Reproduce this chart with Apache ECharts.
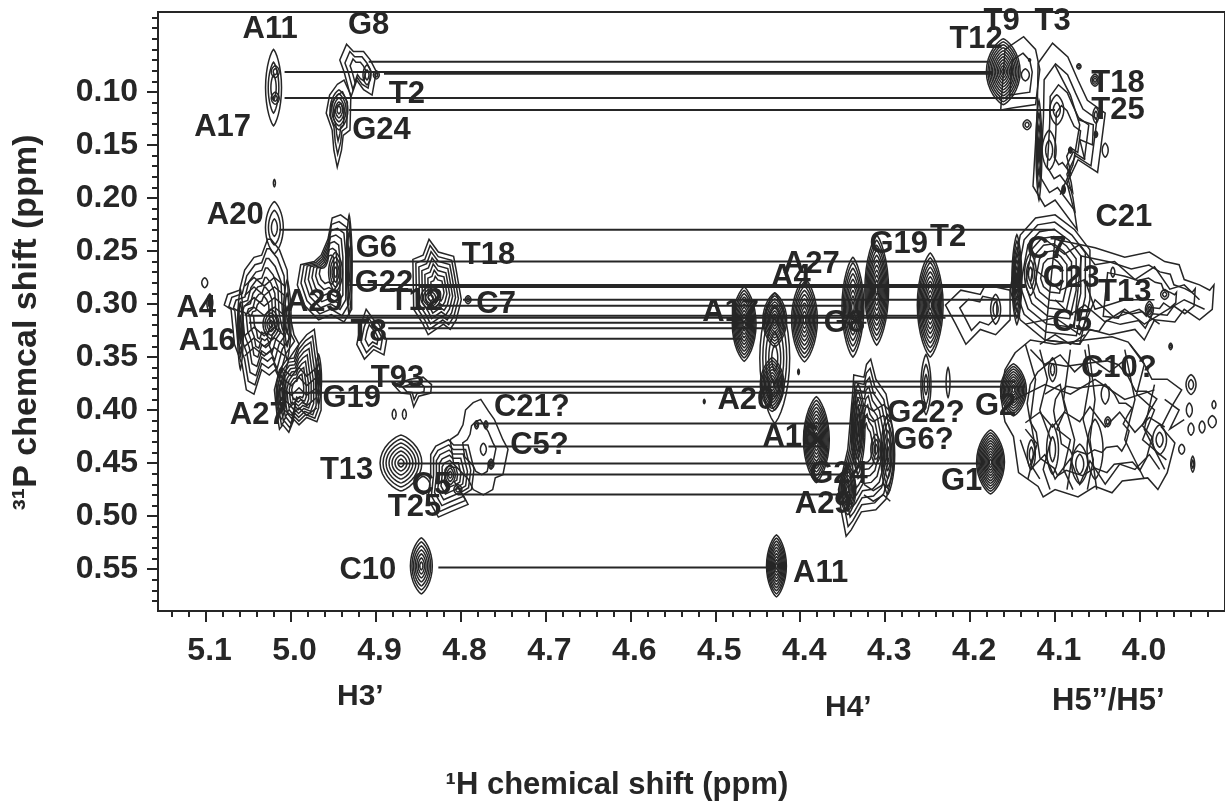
<!DOCTYPE html>
<html><head><meta charset="utf-8">
<style>html,body{margin:0;padding:0;background:#fff}#c{width:1225px;height:806px}</style>
<script src="https://cdn.jsdelivr.net/npm/echarts@6/dist/echarts.min.js"></script>
</head><body><div id="c"></div>
<script>
// Axis ticks (ppm)
const xTickValues = [5.1,5.0,4.9,4.8,4.7,4.6,4.5,4.4,4.3,4.2,4.1,4.0];
const yTickValues = [0.10,0.15,0.20,0.25,0.30,0.35,0.40,0.45,0.50,0.55];
const xMinorValues = [5.14,5.12,5.08,5.06,5.04,5.02,4.98,4.96,4.94,4.92,4.88,4.86,4.84,4.82,4.78,4.76,4.74,4.72,4.68,4.66,4.64,4.62,4.58,4.56,4.54,4.52,4.48,4.46,4.44,4.42,4.38,4.36,4.34,4.32,4.28,4.26,4.24,4.22,4.18,4.16,4.14,4.12,4.08,4.06,4.04,4.02,3.98,3.96,3.94,3.92];
const yMinorValues = [0.03,0.04,0.05,0.06,0.07,0.08,0.09,0.11,0.12,0.13,0.14,0.16,0.17,0.18,0.19,0.21,0.22,0.23,0.24,0.26,0.27,0.28,0.29,0.31,0.32,0.33,0.34,0.36,0.37,0.38,0.39,0.41,0.42,0.43,0.44,0.46,0.47,0.48,0.49,0.51,0.52,0.53,0.54,0.56,0.57,0.58];

// Connector lines: 31P shift, 1H from, 1H to
const connectorY    = [.0717,.0812,.0830,.1057,.117,.230,.260,.282,.284,.296,.3016,.311,.313,.3176,.323,.3327,.373,.378,.3836,.4127,.4344,.4504,.4608,.4796,.5484];
const connectorFrom = [4.908,5.007,4.890,5.007,4.931,5.013,4.929,4.931,4.849,4.797,4.826,5.051,5.002,5.049,4.885,4.890,4.964,4.873,5.007,4.779,4.767,4.873,4.826,4.803,4.826];
const connectorTo   = [4.178,4.174,4.174,4.120,4.100,4.100,4.143,4.135,4.135,4.141,4.346,4.141,4.229,4.322,4.440,4.469,4.147,4.135,4.311,4.334,4.369,4.188,4.346,4.346,4.428];

// Peak labels
const labelText = ['A11','G8','T12','T9','T3','T18','T25','T2','A17','G24','A20','G6','G22','T18','T12','C7','A4','A29','T8','A16','T93','G19','A27','C21?','C5?','T13','C5','T25','C10','A11','G1','G22?','G6?','G2','A20','A16','G24','A29','A27','A4','A17','G8','G19','T2','C21','C7','C23','T13','C5','C10?'];
const labelX = [5.024,4.908,4.193,4.163,4.103,4.026,4.026,4.863,5.080,4.893,5.065,4.899,4.890,4.767,4.852,4.758,5.111,4.972,4.908,5.098,4.874,4.928,5.038,4.716,4.707,4.934,4.834,4.854,4.909,4.376,4.210,4.252,4.255,4.170,4.464,4.411,4.355,4.373,4.387,4.411,4.482,4.348,4.284,4.226,4.019,4.110,4.081,4.018,4.080,4.025];
const labelY = [.041,.037,.051,.034,.034,.0925,.118,.102,.134,.136,.217,.248,.281,.254,.298,.300,.304,.299,.327,.335,.370,.389,.405,.398,.433,.457,.471,.492,.551,.554,.467,.403,.429,.397,.391,.426,.461,.489,.263,.275,.308,.318,.244,.237,.218,.249,.276,.289,.317,.361];

// Band labels
const bandText = ["H3\u2019","H4\u2019","H5\u2019\u2019/H5\u2019"];

// Contour peaks: 1H, 31P, half width, half height, levels
const peaks = [
[5.020,.096,.0094,.036,3],[5.018,.081,.0047,.0057,2],[5.018,.106,.0047,.0057,2],
[4.910,.084,.0047,.0094,2],[4.899,.084,.0035,.0038,2],[4.943,.117,.0105,.0188,5],
[5.019,.186,.0012,.0035,1],[5.101,.280,.0035,.0047,1],[5.095,.299,.0035,.0085,2],
[5.019,.228,.0105,.0245,3],[5.059,.324,.0035,.0377,3],[5.023,.319,.0094,.0141,4],[5.004,.315,.0047,.0377,3],
[4.931,.263,.0035,.047,3],[4.947,.270,.0082,.0188,4],[4.835,.294,.0117,.0113,4],[4.791,.296,.0035,.0038,2],
[5.011,.385,.0059,.0236,4],[4.967,.371,.0035,.0236,3],[4.878,.404,.0023,.0047,1],[4.866,.404,.0023,.0047,1],
[4.870,.450,.0246,.0264,7],[4.844,.471,.0082,.0085,1],[4.812,.461,.0059,.0094,3],[4.803,.475,.0047,.0047,2],
[4.781,.414,.0023,.0038,2],[4.770,.414,.0023,.0038,2],[4.773,.437,.0035,.0057,1],[4.764,.451,.0035,.0047,3],
[4.846,.547,.0129,.0264,7],[4.428,.547,.0117,.0292,10],
[4.466,.319,.014,.035,11],[4.430,.315,.014,.0254,9],[4.433,.376,.014,.0254,9],[4.430,.351,.0176,.0612,5],
[4.395,.315,.0152,.0396,10],[4.338,.303,.0129,.0471,9],[4.310,.287,.014,.0518,11],[4.247,.301,.0152,.049,11],
[4.252,.376,.0059,.0283,3],[4.226,.374,.0023,.0141,1],[4.402,.364,.001,.0025,2],[4.513,.392,.001,.002,2],
[4.332,.418,.0082,.0424,6],[4.297,.442,.0082,.0377,5],[4.344,.475,.0094,.0236,7],[4.311,.437,.0059,.0141,3],
[4.381,.428,.0152,.0405,12],[4.176,.449,.0164,.0301,12],[4.161,.081,.0199,.0311,11],[4.135,.084,.0047,.0057,1],
[4.130,.070,.0012,.0012,2],[4.072,.076,.0025,.0025,2],[4.053,.089,.005,.0057,3],[4.133,.131,.0047,.0047,2],
[4.052,.122,.0035,.0075,2],[4.041,.155,.0035,.0066,1],[4.052,.140,.002,.003,2],[4.082,.155,.002,.0028,3],[4.090,.192,.002,.004,3],
[4.098,.117,.0082,.0141,2],[4.107,.155,.0082,.0188,2],[4.119,.155,.0035,.047,4],
[4.145,.277,.0059,.0424,7],[4.129,.272,.007,.02,3],[4.149,.381,.0152,.0245,10],
[4.128,.442,.0047,.0141,2],[4.103,.437,.007,.0236,2],[4.071,.451,.0094,.0188,2],[4.053,.437,.0094,.0283,1],
[3.977,.428,.0082,.0141,2],[4.103,.362,.0047,.0113,2],[4.041,.385,.0047,.0094,1],[3.940,.376,.0059,.0094,2],
[3.942,.400,.0035,.0066,1],[3.940,.418,.0035,.0057,1],[3.927,.416,.0035,.0057,1],[3.915,.411,.0047,.0057,1],
[3.913,.395,.0023,.0038,1],[3.938,.451,.0023,.0075,2],[3.951,.437,.0035,.0047,1],[4.038,.411,.0035,.0047,2],
[3.964,.340,.002,.003,2],[3.989,.305,.0047,.0075,3],[3.971,.291,.0047,.0047,2],[4.032,.270,.0023,.0047,1],[4.170,.305,.0059,.0141,2]
];

// Irregular contour outlines: levels, then [1H, 31P] vertices
const outlineLevels = [3,3,7,7,7,3,8,2,6,2,8,4,2,7,3,3,2];
const outlines = [
[[4.934,.055],[4.926,.062],[4.914,.062],[4.906,.070],[4.899,.081],[4.904,.103],[4.914,.098],[4.922,.089],[4.929,.105],[4.937,.081],[4.942,.070]],
[[4.945,.093],[4.937,.089],[4.929,.103],[4.930,.136],[4.938,.141],[4.940,.155],[4.945,.171],[4.949,.155],[4.951,.136],[4.958,.120],[4.954,.103]],
[[5.023,.239],[5.013,.249],[5.004,.268],[5.002,.305],[4.996,.329],[4.990,.338],[5.002,.352],[5.010,.376],[5.018,.362],[5.025,.367],[5.034,.362],[5.043,.385],[5.052,.381],[5.057,.357],[5.066,.338],[5.070,.305],[5.078,.301],[5.074,.291],[5.060,.287],[5.054,.268],[5.043,.256],[5.034,.254],[5.027,.239]],
[[4.951,.219],[4.941,.216],[4.931,.222],[4.928,.249],[4.928,.305],[4.937,.317],[4.952,.310],[4.967,.315],[4.984,.301],[4.992,.282],[4.988,.263],[4.972,.260],[4.964,.254],[4.956,.239]],
[[4.837,.239],[4.826,.251],[4.808,.255],[4.805,.268],[4.799,.296],[4.805,.315],[4.812,.324],[4.820,.319],[4.838,.329],[4.844,.319],[4.855,.305],[4.856,.258],[4.844,.254]],
[[4.911,.305],[4.902,.315],[4.896,.319],[4.887,.334],[4.890,.348],[4.902,.343],[4.913,.352],[4.922,.338],[4.917,.319]],
[[4.990,.338],[4.981,.329],[4.972,.324],[4.969,.343],[4.964,.371],[4.964,.400],[4.969,.411],[4.981,.407],[4.990,.414],[4.996,.409],[5.002,.421],[5.009,.414],[5.013,.418],[5.016,.404],[5.019,.381],[5.013,.362],[5.004,.352],[4.996,.351]],
[[4.859,.371],[4.844,.369],[4.834,.376],[4.835,.384],[4.849,.387],[4.855,.397],[4.859,.385],[4.870,.384],[4.879,.376]],
[[4.829,.434],[4.814,.428],[4.808,.433],[4.791,.433],[4.784,.456],[4.787,.475],[4.797,.480],[4.791,.489],[4.812,.496],[4.826,.501],[4.838,.484],[4.835,.461],[4.835,.442]],
[[4.794,.400],[4.785,.393],[4.776,.390],[4.767,.401],[4.760,.409],[4.750,.428],[4.744,.437],[4.750,.461],[4.759,.464],[4.762,.475],[4.773,.480],[4.785,.475],[4.791,.465],[4.808,.451],[4.812,.428],[4.803,.423],[4.797,.414]],
[[4.317,.352],[4.311,.371],[4.299,.385],[4.291,.418],[4.290,.456],[4.299,.484],[4.311,.494],[4.328,.496],[4.340,.513],[4.346,.519],[4.352,.494],[4.355,.475],[4.344,.437],[4.338,.381],[4.337,.367],[4.325,.369],[4.322,.357]],
[[4.120,.073],[4.103,.054],[4.085,.067],[4.073,.089],[4.062,.108],[4.041,.120],[4.045,.145],[4.050,.176],[4.073,.164],[4.086,.186],[4.077,.214],[4.074,.230],[4.100,.202],[4.112,.208],[4.126,.189],[4.123,.148],[4.121,.117]],
[[4.137,.048],[4.123,.060],[4.118,.079],[4.123,.112],[4.149,.115],[4.164,.117],[4.159,.060]],
[[4.153,.287],[4.141,.235],[4.123,.219],[4.100,.216],[4.077,.230],[4.059,.249],[4.059,.296],[4.071,.338],[4.112,.334],[4.141,.315]],
[[4.100,.239],[4.053,.247],[4.018,.256],[3.989,.251],[3.971,.260],[3.954,.263],[3.948,.277],[3.930,.282],[3.918,.287],[3.913,.282],[3.915,.305],[3.930,.315],[3.948,.305],[3.959,.317],[3.983,.315],[3.995,.334],[4.006,.324],[4.036,.329],[4.059,.324],[4.071,.338],[4.112,.334]],
[[4.147,.346],[4.159,.362],[4.164,.387],[4.159,.411],[4.149,.425],[4.143,.459],[4.120,.472],[4.114,.482],[4.100,.475],[4.073,.482],[4.053,.472],[4.033,.478],[4.021,.467],[3.991,.464],[3.979,.475],[3.968,.459],[3.959,.431],[3.975,.416],[3.963,.397],[3.951,.381],[3.968,.371],[3.986,.371],[3.998,.352],[4.014,.336],[4.033,.331],[4.065,.334],[4.100,.338],[4.129,.334]],
[[4.229,.301],[4.211,.287],[4.188,.291],[4.182,.282],[4.153,.287],[4.153,.315],[4.170,.329],[4.188,.324],[4.205,.338],[4.217,.319]]
];

// Open contour strands
const strands = [
[[4.135,.338],[4.123,.371],[4.129,.409],[4.123,.437],[4.132,.465]],
[[4.118,.343],[4.109,.371],[4.118,.400],[4.105,.428],[4.114,.456],[4.106,.475]],
[[4.082,.343],[4.090,.390],[4.077,.428],[4.086,.475]],
[[4.061,.338],[4.053,.390],[4.059,.428],[4.051,.475]],
[[4.018,.343],[4.006,.390],[4.018,.428],[3.995,.465]],
[[3.983,.376],[3.995,.418],[3.971,.456]],
[[4.147,.390],[4.112,.376],[4.082,.385],[4.053,.371],[4.018,.390],[3.983,.381]],
[[4.118,.338],[4.100,.329],[4.082,.338],[4.065,.329]],
[[4.135,.412],[4.118,.402],[4.103,.416],[4.089,.402],[4.071,.411],[4.059,.397],[4.041,.416],[4.024,.402],[4.006,.421],[3.989,.407],[3.971,.416]],
[[4.129,.343],[4.112,.357],[4.094,.348],[4.077,.364],[4.059,.351],[4.036,.364],[4.018,.353]],
[[4.141,.428],[4.129,.456],[4.112,.442],[4.100,.465],[4.082,.446],[4.071,.470],[4.059,.448],[4.041,.470],[4.024,.451],[4.006,.456],[3.989,.442],[3.977,.456]],
[[4.112,.239],[4.089,.253],[4.071,.244],[4.053,.263],[4.030,.260],[4.006,.277],[3.983,.265],[3.965,.286],[3.948,.282],[3.930,.296]],
[[4.135,.319],[4.100,.313],[4.071,.329],[4.053,.296],[4.030,.313],[4.001,.305],[3.977,.319]],
[[4.123,.268],[4.094,.287],[4.065,.277],[4.053,.305],[4.018,.296],[3.983,.296]],
[[4.135,.418],[4.121,.432],[4.129,.451],[4.118,.465]],
[[4.112,.385],[4.094,.376],[4.088,.400],[4.098,.418],[4.082,.428],[4.090,.456],[4.079,.475]],
[[4.065,.343],[4.059,.371],[4.067,.409],[4.055,.447],[4.062,.475]],
[[4.012,.338],[3.995,.357],[4.004,.385],[3.983,.400],[3.997,.428],[3.969,.447]],
[[3.971,.390],[3.954,.400],[3.965,.418],[3.948,.409]],
[[4.100,.296],[4.082,.310],[4.065,.301],[4.041,.317],[4.018,.305],[3.995,.319],[3.971,.307],[3.948,.296],[3.924,.305]],
[[4.100,.075],[4.082,.103],[4.071,.131],[4.079,.169],[4.094,.197]],
[[4.073,.126],[4.055,.131],[4.056,.150],[4.071,.145],[4.065,.164]],
[[5.011,.360],[4.999,.368],[4.990,.360],[4.981,.368],[4.969,.360]],
[[5.011,.369],[4.999,.377],[4.990,.369],[4.981,.377],[4.969,.369]],
[[5.011,.379],[4.999,.386],[4.990,.379],[4.981,.386],[4.969,.379]],
[[5.011,.388],[4.999,.396],[4.990,.388],[4.981,.396],[4.969,.388]],
[[5.011,.398],[4.999,.405],[4.990,.398],[4.981,.405],[4.969,.398]],
[[5.054,.283],[5.043,.275],[5.031,.283],[5.019,.275],[5.007,.283]],
[[5.054,.292],[5.043,.284],[5.031,.292],[5.019,.284],[5.007,.292]],
[[5.054,.302],[5.043,.294],[5.031,.302],[5.019,.294],[5.007,.302]],
[[5.054,.311],[5.043,.303],[5.031,.311],[5.019,.303],[5.007,.311]],
[[5.054,.330],[5.043,.322],[5.031,.330],[5.019,.322],[5.007,.330]],
[[5.054,.340],[5.043,.332],[5.031,.340],[5.019,.332],[5.007,.340]],
[[5.054,.349],[5.043,.341],[5.031,.349],[5.019,.341],[5.007,.349]],
[[4.325,.395],[4.314,.401],[4.302,.395],[4.294,.401]],
[[4.325,.405],[4.314,.411],[4.302,.405],[4.294,.411]],
[[4.325,.470],[4.314,.476],[4.302,.470],[4.294,.476]],
[[4.325,.480],[4.314,.486],[4.302,.480],[4.294,.486]]
];

const INK = '#262626';
const FONT = '"Liberation Sans", Arial, sans-serif';
const chart = echarts.init(document.getElementById('c'));

function contourChild(pts, close, api){
  return {type: close ? 'polygon' : 'polyline',
    shape:{points: pts.map(p => api.coord(p))},
    style:{fill:'none', stroke:INK, lineWidth:1.5}};
}
function peakRender(params, api){
  const [x,y,rx,ry,n] = peaks[params.dataIndex];
  const kids = [];
  for(let l=0;l<n;l++){
    const k = 1-l/n, pts=[];
    for(let a=0;a<32;a++){
      const t=a/32*Math.PI*2, c=Math.cos(t);
      pts.push([x+rx*k*Math.sign(c)*Math.pow(Math.abs(c),1.5), y+ry*k*Math.sin(t)]);
    }
    kids.push(contourChild(pts,true,api));
  }
  return {type:'group',children:kids};
}
function outlineRender(params, api){
  const o = outlines[params.dataIndex], n = outlineLevels[params.dataIndex];
  const cx = o.reduce((s,p)=>s+p[0],0)/o.length, cy = o.reduce((s,p)=>s+p[1],0)/o.length;
  const kids = [];
  for(let l=0;l<n;l++){
    const k = 1-0.85*l/n;
    kids.push(contourChild(o.map(p=>[cx+(p[0]-cx)*k, cy+(p[1]-cy)*k]),true,api));
  }
  return {type:'group',children:kids};
}
function strandRender(params, api){
  return contourChild(strands[params.dataIndex],false,api);
}

const xRange = {type:'value', inverse:true, min:3.9, max:5.156, splitLine:{show:false}, position:'bottom'};
const yRange = {type:'value', inverse:true, min:0.0247, max:0.5895, splitLine:{show:false}, position:'left'};

const option = {
  animation:false,
  backgroundColor:'#fff',
  grid:{left:158, top:12, width:1073, height:600, show:true, borderColor:INK, borderWidth:2, backgroundColor:'transparent'},
  xAxis:[
    Object.assign({},xRange,{
      name:'\u00B9H chemical shift (ppm)', nameLocation:'middle', nameGap:159,
      nameTextStyle:{color:INK, fontFamily:FONT, fontWeight:'bold', fontSize:31, padding:[0,149,0,0]},
      axisLine:{lineStyle:{color:INK,width:2}},
      axisTick:{show:true,length:11,lineStyle:{color:INK,width:2},customValues:xTickValues},
      axisLabel:{show:true,color:INK,fontFamily:FONT,fontWeight:'bold',fontSize:32,margin:24,padding:[0,0,0,8],customValues:xTickValues,formatter:v=>v.toFixed(1)}
    }),
    Object.assign({},xRange,{
      axisLine:{show:false},
      axisTick:{show:true,length:6,lineStyle:{color:INK,width:2},customValues:xMinorValues},
      axisLabel:{show:false}
    })
  ],
  yAxis:[
    Object.assign({},yRange,{
      name:'\u00B3\u00B9P chemcal shift (ppm)', nameLocation:'middle', nameGap:114,
      nameTextStyle:{color:INK, fontFamily:FONT, fontWeight:'bold', fontSize:34, padding:[0,22,0,0]},
      axisLine:{lineStyle:{color:INK,width:2}},
      axisTick:{show:true,length:11,lineStyle:{color:INK,width:2},customValues:yTickValues},
      axisLabel:{show:true,color:INK,fontFamily:FONT,fontWeight:'bold',fontSize:32,margin:20,customValues:yTickValues,formatter:v=>v.toFixed(2)}
    }),
    Object.assign({},yRange,{
      axisLine:{show:false},
      axisTick:{show:true,length:6,lineStyle:{color:INK,width:2},customValues:yMinorValues},
      axisLabel:{show:false}
    })
  ],
  series:[
    {type:'custom',name:'outlines',clip:true,silent:true,renderItem:outlineRender,
      data:outlines.map(o=>o[0])},
    {type:'custom',name:'strands',clip:true,silent:true,renderItem:strandRender,
      data:strands.map(s=>s[0])},
    {type:'custom',name:'peaks',clip:true,silent:true,renderItem:peakRender,
      data:peaks.map(p=>[p[0],p[1]])},
    ...connectorY.map((y,i)=>({type:'line',silent:true,showSymbol:false,symbol:'none',z:3,
      lineStyle:{color:INK,width:2},data:[[connectorFrom[i],y],[connectorTo[i],y]]})),
    {type:'scatter',name:'labels',silent:true,z:5,symbolSize:1,itemStyle:{color:'transparent',opacity:1},
      data:labelText.map((t,i)=>({name:t,value:[labelX[i],labelY[i]]})),
      label:{show:true,position:'inside',formatter:p=>p.name,color:INK,opacity:1,fontFamily:FONT,fontWeight:'bold',fontSize:31}}
  ],
  graphic:[
    {type:'text',left:337,top:682,style:{text:bandText[0],fill:INK,font:'bold 30px "Liberation Sans"'}},
    {type:'text',left:825,top:693,style:{text:bandText[1],fill:INK,font:'bold 30px "Liberation Sans"'}},
    {type:'text',left:1052,top:686,style:{text:bandText[2],fill:INK,font:'bold 31px "Liberation Sans"'}}
  ]
};
chart.setOption(option);
</script></body></html>
